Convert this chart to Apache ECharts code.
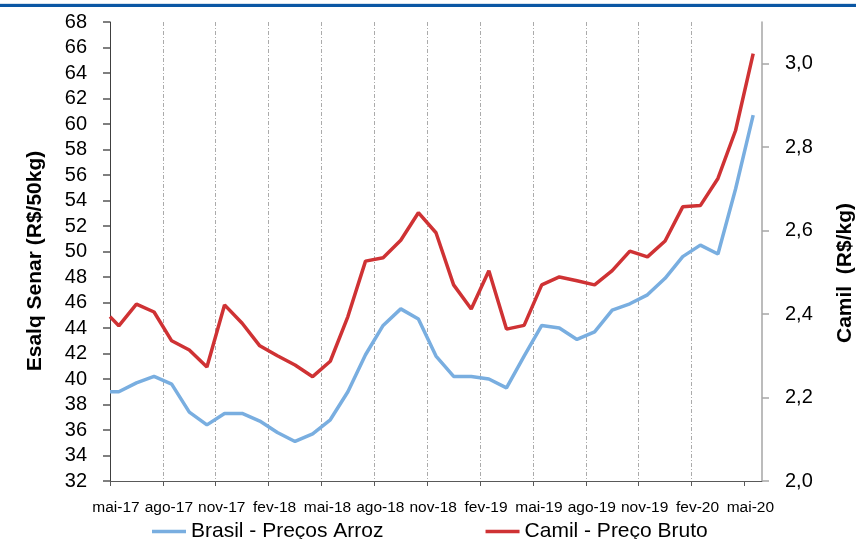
<!DOCTYPE html>
<html>
<head>
<meta charset="utf-8">
<script src="https://cdn.jsdelivr.net/npm/echarts@6/dist/echarts.min.js"></script>
<style>html,body{margin:0;padding:0;background:#fff}#c{width:856px;height:539px}</style>
</head>
<body>
<div id="c"></div>
<script>
// month offsets from mai-17 (0 = start of mai-17)
const monthOffsets = [0, 0.5, 1.5, 2.5, 3.5, 4.5, 5.5, 6.5, 7.5, 8.5, 9.5, 10.5, 11.5, 12.5, 13.5, 14.5, 15.5, 16.5, 17.5, 18.5, 19.5, 20.5, 21.5, 22.5, 23.5, 24.5, 25.5, 26.5, 27.5, 28.5, 29.5, 30.5, 31.5, 32.5, 33.5, 34.5, 35.5, 36.5];
// tick labels every 3 months
const tickMonths = [0, 3, 6, 9, 12, 15, 18, 21, 24, 27, 30, 33, 36];
const tickLabels = ['mai-17','ago-17','nov-17','fev-18','mai-18','ago-18','nov-18','fev-19','mai-19','ago-19','nov-19','fev-20','mai-20'];
// Brasil - Preços Arroz (R$/50kg, left axis)
const brasil = [39.0, 39.0, 39.7, 40.2, 39.6, 37.4, 36.4, 37.3, 37.3, 36.7, 35.8, 35.1, 35.7, 36.8, 39.0, 41.9, 44.2, 45.5, 44.7, 41.8, 40.2, 40.2, 40.0, 39.3, 41.8, 44.2, 44.0, 43.1, 43.7, 45.4, 45.9, 46.6, 47.9, 49.6, 50.5, 49.8, 54.9, 60.7];
// Camil - Preço Bruto (R$/kg, right axis)
const camil = [2.394, 2.372, 2.424, 2.405, 2.336, 2.314, 2.273, 2.422, 2.378, 2.324, 2.300, 2.278, 2.250, 2.287, 2.394, 2.527, 2.535, 2.577, 2.643, 2.595, 2.470, 2.412, 2.504, 2.364, 2.373, 2.470, 2.489, 2.480, 2.470, 2.504, 2.551, 2.537, 2.575, 2.657, 2.660, 2.725, 2.840, 3.024];
const leftTicks = [32, 34, 36, 38, 40, 42, 44, 46, 48, 50, 52, 54, 56, 58, 60, 62, 64, 66, 68];
const rightTicks = [2.0, 2.2, 2.4, 2.6, 2.8, 3.0];

const FONT = '"Liberation Sans", Arial, sans-serif';
const chart = echarts.init(document.getElementById('c'), null, {renderer: 'canvas'});
const labelMap = {};
tickMonths.forEach((m, i) => { labelMap[m] = tickLabels[i]; });

chart.setOption({
  animation: false,
  backgroundColor: '#ffffff',
  grid: {left: 110, right: 94, top: 22, bottom: 58, containLabel: false},
  xAxis: {
    type: 'value', min: 0, max: 37, interval: 3,
    axisLine: {show: true, onZero: false, lineStyle: {color: '#595959', width: 1}},
    axisTick: {show: true, length: 5, customValues: tickMonths, lineStyle: {color: '#595959'}},
    axisLabel: {
      customValues: tickMonths, margin: 19, padding: [0, 0, 0, 12],
      color: '#000', fontFamily: FONT, fontSize: 15.5,
      formatter: v => labelMap[v] !== undefined ? labelMap[v] : ''
    },
    splitLine: {show: true, showMinLine: false, showMaxLine: false, lineStyle: {color: '#ababab', type: [4, 2, 1, 2], width: 1}}
  },
  yAxis: [
    {
      type: 'value', min: 32, max: 68, interval: 2, position: 'left',
      axisLine: {show: true, lineStyle: {color: '#404040', width: 1}},
      axisTick: {show: true, length: 7, inside: false, customValues: leftTicks, lineStyle: {color: '#7f7f7f', width: 2}},
      axisLabel: {customValues: leftTicks, margin: 23, color: '#000', fontFamily: FONT, fontSize: 20},
      splitLine: {show: false}
    },
    {
      type: 'value', min: 2.0, max: 3.1, interval: 0.2, position: 'right',
      axisLine: {show: true, lineStyle: {color: '#a6a6a6', width: 1.5}},
      axisTick: {show: true, length: 7, customValues: rightTicks, lineStyle: {color: '#a6a6a6', width: 1.5}},
      axisLabel: {customValues: rightTicks, margin: 23, color: '#000', fontFamily: FONT, fontSize: 20,
        formatter: v => v.toFixed(1).replace('.', ',')},
      splitLine: {show: false}
    }
  ],
  legend: {
    left: 152, top: 521, padding: 0, itemGap: 102, itemWidth: 34, itemHeight: 3.5, icon: 'rect',
    textStyle: {color: '#000', fontFamily: FONT, fontSize: 21},
    data: ['Brasil - Preços Arroz', 'Camil - Preço Bruto']
  },
  series: [
    {
      name: 'Brasil - Preços Arroz', type: 'line', yAxisIndex: 0, symbol: 'none',
      lineStyle: {color: '#79aee0', width: 3.5}, itemStyle: {color: '#79aee0'},
      data: monthOffsets.map((m, i) => [m, brasil[i]])
    },
    {
      name: 'Camil - Preço Bruto', type: 'line', yAxisIndex: 1, symbol: 'none',
      lineStyle: {color: '#cf3234', width: 3.5}, itemStyle: {color: '#cf3234'},
      data: monthOffsets.map((m, i) => [m, camil[i]])
    }
  ],
  graphic: [
    {type: 'rect', left: 0, top: 3, shape: {width: 856, height: 1}, style: {fill: '#d6e2ee'}, silent: true},
    {type: 'rect', left: 0, top: 4, shape: {width: 856, height: 3}, style: {fill: '#0b57a4'}, silent: true},
    {type: 'text', x: 35, y: 261, rotation: Math.PI / 2,
      style: {text: 'Esalq Senar (R$/50kg)', fontFamily: FONT, fontWeight: 'bold', fontSize: 21, fill: '#000', textAlign: 'center', textVerticalAlign: 'middle'}},
    {type: 'text', x: 845, y: 273, rotation: Math.PI / 2,
      style: {text: 'Camil  (R$/kg)', fontFamily: FONT, fontWeight: 'bold', fontSize: 21, fill: '#000', textAlign: 'center', textVerticalAlign: 'middle'}}
  ]
});
</script>
</body>
</html>
